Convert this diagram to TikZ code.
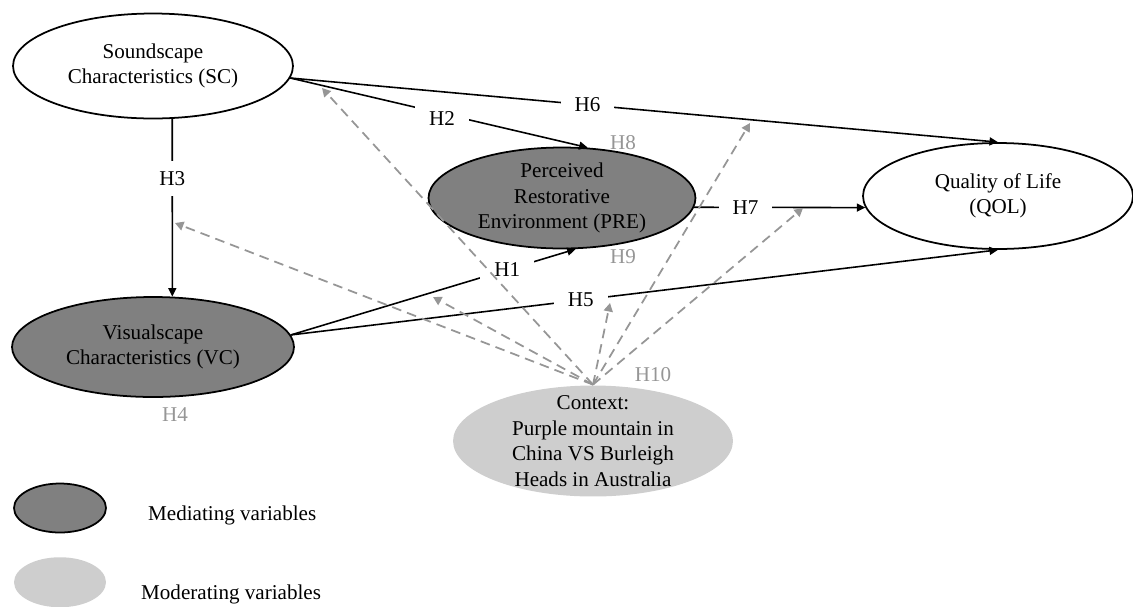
\documentclass[tikz,border=0pt]{standalone}
\usepackage{fontspec}
\setmainfont{Liberation Serif}
\usetikzlibrary{arrows.meta,positioning,shapes.geometric}

\definecolor{medGray}{RGB}{128,128,128}
\definecolor{modGray}{RGB}{206,206,206}
\definecolor{hypGray}{RGB}{150,150,150}

\begin{document}
\begin{tikzpicture}[
  x=0.02cm, y=0.02cm,
  var/.style={ellipse, draw, line width=1pt, inner xsep=0pt, inner ysep=-10pt,
              align=center, font=\fontsize{12}{14.5}\selectfont},
  medvar/.style={var, fill=medGray},
  modvar/.style={var, draw=none, fill=modGray},
  cause/.style={line width=0.9pt, -{Triangle[length=1.7mm,width=1.6mm]}},
  moder/.style={hypGray, line width=1pt, dash pattern=on 5.5pt off 3.5pt,
                -{Triangle[length=1.7mm,width=1.8mm]}},
  hyp/.style={fill=white, inner xsep=8pt, inner ysep=6pt,
              font=\fontsize{12}{14.5}\selectfont},
  hypg/.style={text=hypGray, font=\fontsize{12}{14.5}\selectfont},
  legtxt/.style={inner sep=0pt, font=\fontsize{12}{14.5}\selectfont}
]
  \useasboundingbox (0,0) rectangle (1133,-606);

  % variables
  \node[var, minimum width=5.6cm, minimum height=2.1cm]     (sc)  at (153,-66)  {Soundscape\\Characteristics (SC)};
  \node[medvar, minimum width=5.34cm, minimum height=2.02cm] (pre) at (562,-198) {Perceived\\Restorative\\Environment (PRE)};
  \node[var, minimum width=5.4cm, minimum height=2.12cm]    (qol) at (998,-196) {Quality of Life\\(QOL)};
  \node[medvar, minimum width=5.64cm, minimum height=2.0cm]  (vc)  at (153,-347) {Visualscape\\Characteristics (VC)};
  \node[modvar, minimum width=5.6cm, minimum height=2.22cm]  (ctx) at (593,-441) {Context:\\Purple mountain in\\China VS Burleigh\\Heads in Australia};

  % moderation hypotheses
  \node[hypg] (h8)  at (623,-143) {H8};
  \node[hypg] (h9)  at (623,-257) {H9};
  \node[hypg] (h4)  at (175,-415) {H4};
  \node[hypg] (h10) at (653,-375) {H10};

  % direct paths
  \draw[cause] (sc.-5)  -- node[hyp, pos=0.42] {H6} (qol.north);
  \draw[cause] (sc.-5)  -- node[hyp, pos=0.51, yshift=-0.1cm] {H2} (pre.63);
  \draw[cause] (sc.-70) -- node[hyp, pos=0.335] {H3} (vc.69);
  \draw[cause] (vc.5)   -- node[hyp, pos=0.76] {H1} (pre.-75);
  \draw[cause] (vc.5)   -- node[hyp, pos=0.41] {H5} (qol.south);
  \draw[cause] (pre.-4) -- node[hyp, pos=0.30] {H7} (qol.185);

  % context acts on the paths
  \coordinate (mSC) at (322,-88);
  \coordinate (mH3) at (175,-223);
  \coordinate (mH1) at (433,-297);
  \coordinate (mH5) at (610,-303);
  \coordinate (mH6) at (750,-123);
  \coordinate (mH7) at (803,-208);
  \foreach \m in {mSC,mH3,mH1,mH5,mH6,mH7}
    \draw[moder] (ctx.north) -- (\m);

  % legend
  \node[medvar, minimum width=1.84cm, minimum height=0.98cm] (legmed) at (60,-508) {};
  \node[modvar, minimum width=1.84cm, minimum height=1.0cm, below=0.46cm of legmed] (legmod) {};
  \node[legtxt, right=0.82cm of legmed, yshift=-0.14cm] (medtxt) {Mediating variables};
  \node[legtxt, right=0.68cm of legmod, yshift=-0.24cm] (modtxt) {Moderating variables};
\end{tikzpicture}
\end{document}
